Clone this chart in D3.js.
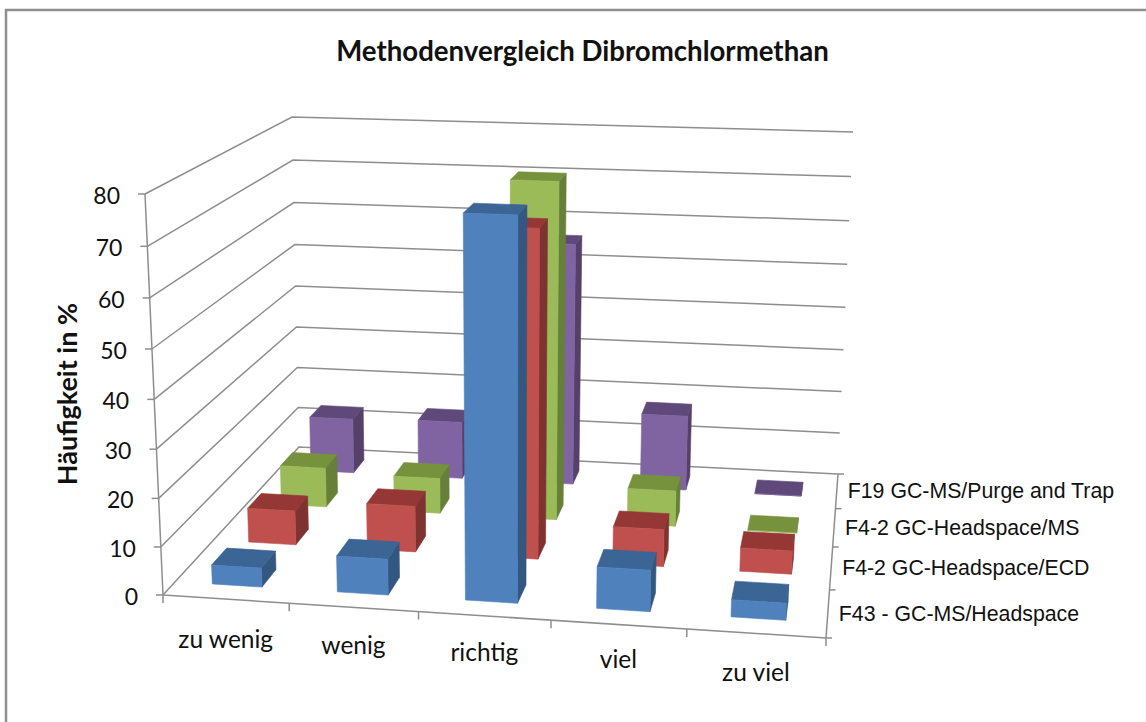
<!DOCTYPE html>
<html><head><meta charset="utf-8">
<style>html,body{margin:0;padding:0;background:#fff}svg{display:block}</style>
<script src="https://cdn.jsdelivr.net/npm/d3@7/dist/d3.min.js"></script>
</head><body><div id="chart"></div>
<script>
const title = "Methodenvergleich Dibromchlormethan";
const yTitle = "Häufigkeit in %";
const categories = ["zu wenig","wenig","richtig","viel","zu viel"];
const seriesNames = ["F43 - GC-MS/Headspace","F4-2 GC-Headspace/ECD","F4-2 GC-Headspace/MS","F19 GC-MS/Purge and Trap"];
const f43 = [4, 7.5, 77, 8.5, 3.5];
const f42ecd = [7.5, 10, 69.5, 8, 5];
const f42ms = [9, 8, 74.5, 8, 0];
const f19 = [13, 13.5, 56, 17.5, 0];
const yTicks = [0,10,20,30,40,50,60,70,80];
const seriesValues = [f43, f42ecd, f42ms, f19];
const frontColors = ["#4F81BD","#C0504D","#9BBB59","#8064A2"];
const topColors   = ["#3A6595","#953735","#76923C","#5F497A"];
const sideColors  = ["#33577F","#7F3330","#66803A","#544068"];

const W = 1146, H = 722;
const svg = d3.select("#chart").append("svg").attr("width",W).attr("height",H);

// plane corners on screen: floor (value 0) and ceiling (value 80)
const floorQuad = [[163,595],[826,638],[838,474],[299,447]];
const ceilQuad  = [[145,194],[843,218],[853,132],[292,117]];
function homography(q){
  const [[x0,y0],[x1,y1],[x2,y2],[x3,y3]] = q;
  const dx1=x1-x2, dx2=x3-x2, dx3=x0-x1+x2-x3, dy1=y1-y2, dy2=y3-y2, dy3=y0-y1+y2-y3;
  const den=dx1*dy2-dx2*dy1;
  const g=(dx3*dy2-dx2*dy3)/den, h=(dx1*dy3-dx3*dy1)/den;
  const a=x1-x0+g*x1, b=x3-x0+h*x3, d=y1-y0+g*y1, e=y3-y0+h*y3;
  return (u,v)=>{const w=g*u+h*v+1;return [(a*u+b*v+x0)/w,(d*u+e*v+y0)/w];};
}
const hFloor = homography(floorQuad), hCeil = homography(ceilQuad);
const yScale = d3.scaleLinear().domain([0,80]).range([0,1]);
const persp = 1.05;
function project(u,value,v){
  const t0 = yScale(value), t = t0/(t0+persp*(1-t0));
  const a = hFloor(u,v), b = hCeil(u,v);
  return [a[0]+(b[0]-a[0])*t, a[1]+(b[1]-a[1])*t];
}
const xBand = d3.scaleBand().domain(categories).range([0,1]).paddingInner(0.6).paddingOuter(0.3);
const zBand = d3.scaleBand().domain(seriesNames).range([0,1]).paddingInner(0.6).paddingOuter(0.3);
const xCell = d3.scaleBand().domain(categories).range([0,1]);
const zCell = d3.scaleBand().domain(seriesNames).range([0,1]);
const axisColor = "#8e8e8e";

// outer frame: only top and left edges are visible
svg.append("line").attr("x1",5).attr("x2",W).attr("y1",10).attr("y2",10).attr("stroke",axisColor).attr("stroke-width",2.5);
svg.append("line").attr("x1",6).attr("x2",6).attr("y1",9).attr("y2",H).attr("stroke",axisColor).attr("stroke-width",2.5);

const lineGen = d3.line();
const grid = svg.append("g").attr("fill","none").attr("stroke",axisColor).attr("stroke-width",1.5);
yTicks.forEach(t=>{
  grid.append("path").attr("d",lineGen([project(0,t,0),project(0,t,1),project(1,t,1)]));
  const p=project(0,t,0);
  grid.append("path").attr("d",lineGen([p,[p[0]-7,p[1]]]));
});
grid.append("path").attr("d",lineGen([project(0,0,0),project(0,80,0)]));
grid.append("path").attr("d",lineGen([project(0,0,0),project(1,0,0)]));
grid.append("path").attr("d",lineGen([project(1,0,0),project(1,0,1)]));
d3.range(0,6).forEach(i=>{
  const p=project(i/5,0,0);
  grid.append("path").attr("d",lineGen([p,[p[0],p[1]+8]]));
});
d3.range(0,5).forEach(i=>{
  const p=project(1,0,i/4);
  grid.append("path").attr("d",lineGen([p,[p[0]+6,p[1]]]));
});

// bars, back row first
const poly = pts => lineGen(pts)+"Z";
const barsG = svg.append("g");
d3.range(seriesNames.length-1,-1,-1).forEach(s=>{
  const z0=zBand(seriesNames[s]), z1=z0+zBand.bandwidth();
  categories.forEach((c,i)=>{
    const v=seriesValues[s][i], x0=xBand(c), x1=x0+xBand.bandwidth();
    const g=barsG.append("g").attr("stroke-width",0.6).attr("stroke-linejoin","round");
    g.append("path").attr("d",poly([project(x1,0,z0),project(x1,0,z1),project(x1,v,z1),project(x1,v,z0)]))
      .attr("fill",sideColors[s]).attr("stroke",sideColors[s]);
    g.append("path").attr("d",poly([project(x0,v,z0),project(x1,v,z0),project(x1,v,z1),project(x0,v,z1)]))
      .attr("fill",topColors[s]).attr("stroke",topColors[s]);
    g.append("path").attr("d",poly([project(x0,0,z0),project(x1,0,z0),project(x1,v,z0),project(x0,v,z0)]))
      .attr("fill",frontColors[s]).attr("stroke",frontColors[s]);
  });
});

// text
const humanist = "Lato, 'Open Sans', sans-serif";
svg.append("text").text(title).attr("x",582.5).attr("y",61).attr("text-anchor","middle")
  .attr("font-family",humanist).attr("font-weight",700).attr("font-size",27.6).attr("fill","#111");
svg.append("text").text(yTitle).attr("transform","translate(77,394) rotate(-90)").attr("text-anchor","middle")
  .attr("font-family",humanist).attr("font-weight",700).attr("font-size",27).attr("fill","#111");
yTicks.forEach(t=>{
  const p=project(0,t,0);
  svg.append("text").text(t).attr("x",p[0]-25).attr("y",p[1]+2).attr("dy","0.35em").attr("text-anchor","end")
    .attr("font-family",humanist).attr("font-size",23).attr("fill","#111");
});
const catLabelDrop = [40,38,37,35,39];
categories.forEach((c,i)=>{
  const p=project(xCell(c)+xCell.bandwidth()/2,0,0);
  svg.append("text").text(c).attr("x",p[0]).attr("y",p[1]+catLabelDrop[i]).attr("dy","0.35em").attr("text-anchor","middle")
    .attr("font-family",humanist).attr("font-size",24.5).attr("fill","#111");
});
seriesNames.forEach(n=>{
  const p=project(1,0,zCell(n)+zCell.bandwidth()/2);
  svg.append("text").text(n).attr("x",p[0]+11).attr("y",p[1]).attr("dy","0.35em")
    .attr("font-family","'Liberation Sans', Arial, sans-serif").attr("font-size",21.3).attr("fill","#111");
});
</script></body></html>
